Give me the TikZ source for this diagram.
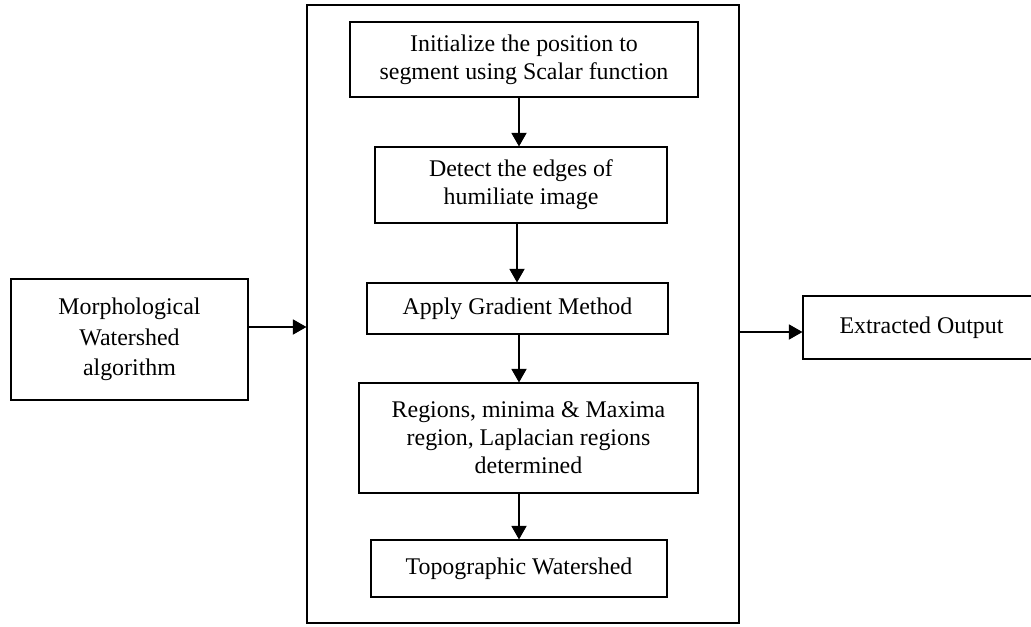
\documentclass[tikz,border=0pt]{standalone}
\usepackage{fontspec}
\setmainfont{Liberation Serif}
\usetikzlibrary{arrows.meta}

\tikzset{
  blk/.style={draw,line width=0.8pt,align=center,inner sep=0pt,
    font=\fontsize{17}{19.8}\selectfont},
  arr/.style={-{Triangle[length=3.4mm,width=3.8mm]},line width=0.8pt}
}

\begin{document}
\begin{tikzpicture}[x=0.025cm,y=-0.025cm]
        \useasboundingbox (0,0) rectangle (1031,626);
        \clip (0,0) rectangle (1031,626);
        % contenitore
        \node[draw,line width=0.8pt,minimum width=432*0.025cm,minimum height=618*0.025cm] (frame) at (523,314) {};
        % blocchi esterni
        \node[blk,font=\fontsize{17}{21.5}\selectfont,minimum width=237*0.025cm,minimum height=121*0.025cm] (morph) at (129.5,339.5)
            {Morphological\\Watershed\\algorithm};
        \node[blk,minimum width=237*0.025cm,minimum height=63*0.025cm] (output) at (921.5,327.5)
            {Extracted Output};
        % passi interni
        \node[blk,minimum width=348*0.025cm,minimum height=75*0.025cm] (init) at (524,59.5)
            {Initialize the position to\\segment using Scalar function};
        \node[blk,minimum width=292*0.025cm,minimum height=76*0.025cm] (edges) at (521,185)
            {Detect the edges of\\humiliate image};
        \node[blk,minimum width=301*0.025cm,minimum height=51*0.025cm] (gradient) at (517.5,308.5)
            {Apply Gradient Method};
        \node[blk,minimum width=339*0.025cm,minimum height=110*0.025cm] (regions) at (528.5,438)
            {Regions, minima \& Maxima\\region, Laplacian regions\\determined};
        \node[blk,minimum width=296*0.025cm,minimum height=57*0.025cm] (topo) at (519,568.5)
            {Topographic Watershed};
        % frecce
        \coordinate (ax) at (519,0);
        \coordinate (bx) at (517,0);
        \coordinate (inrow) at (0,327);
        \coordinate (outrow) at (0,332);
        \draw[arr] (init.south -| ax) -- (edges.north -| ax);
        \draw[arr] (edges.south -| bx) -- (gradient.north -| bx);
        \draw[arr] (gradient.south -| ax) -- (regions.north -| ax);
        \draw[arr] (regions.south -| ax) -- (topo.north -| ax);
        \draw[arr] (morph.east |- inrow) -- (frame.west |- inrow);
        \draw[arr] (frame.east |- outrow) -- (output.west |- outrow);
    \end{tikzpicture}
\end{document}
